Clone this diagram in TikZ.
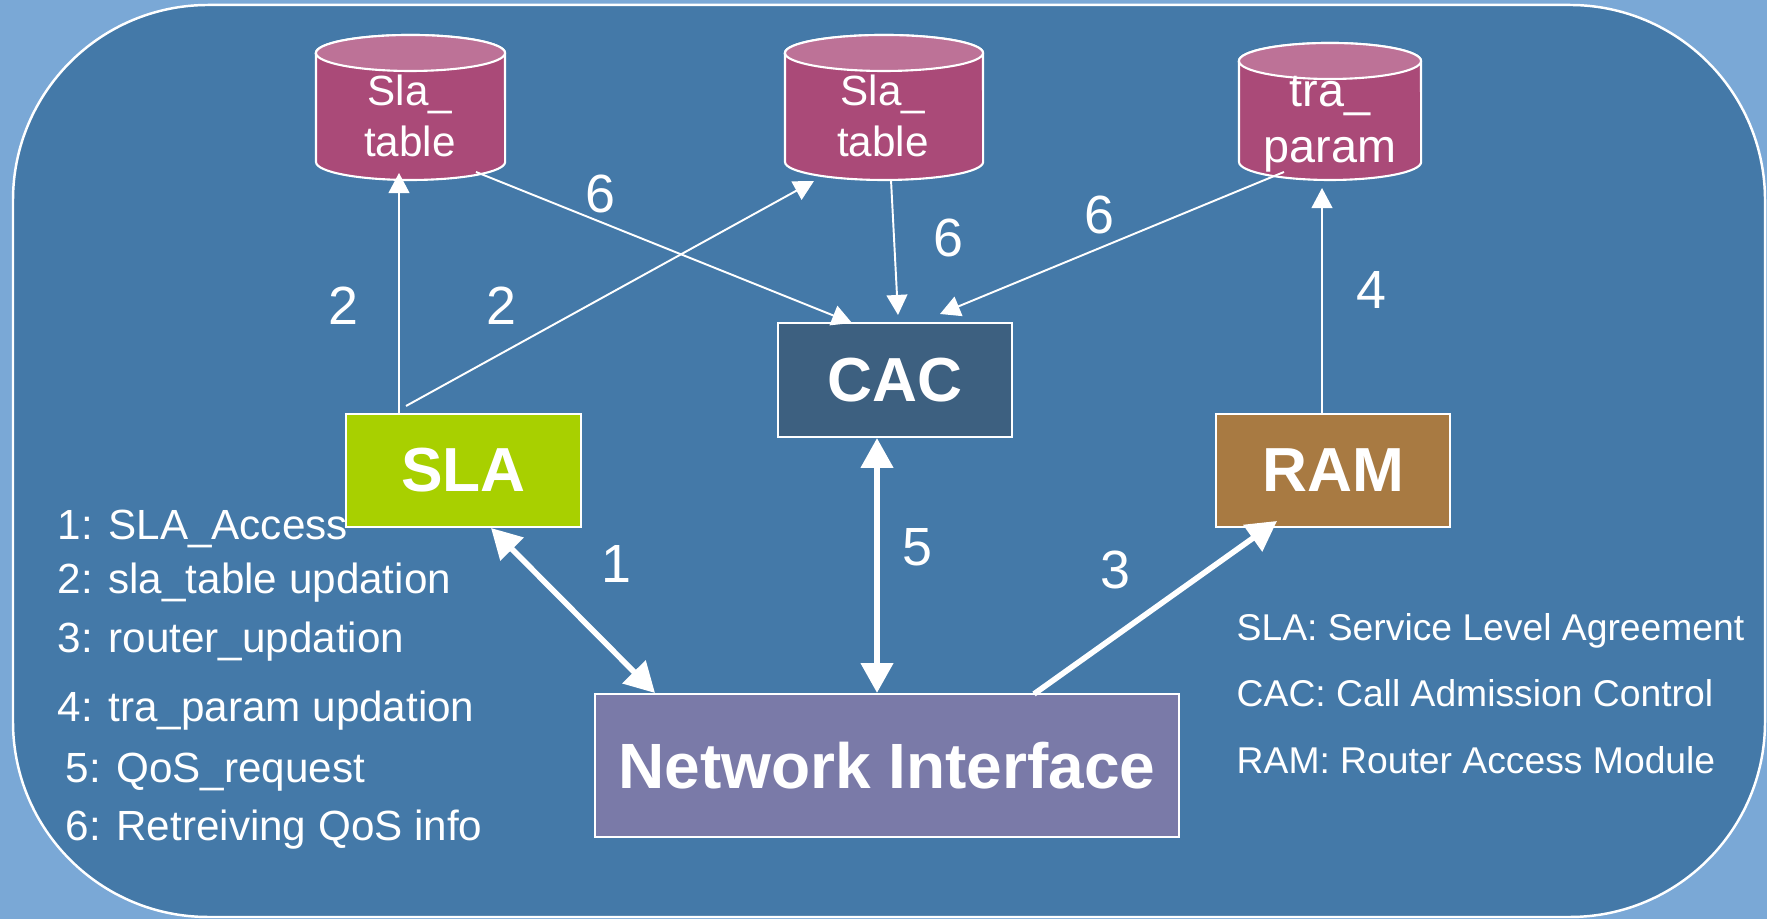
\documentclass[tikz,border=0pt]{standalone}
\usepackage{fontspec}
\setmainfont{Liberation Sans}
\usetikzlibrary{arrows.meta}
\definecolor{bglight}{RGB}{122,168,214}
\definecolor{innerblue}{RGB}{68,121,168}
\definecolor{cylbody}{RGB}{170,74,120}
\definecolor{cyltop}{RGB}{189,114,151}
\definecolor{caccol}{RGB}{61,96,128}
\definecolor{slacol}{RGB}{168,208,0}
\definecolor{ramcol}{RGB}{168,122,66}
\definecolor{nicol}{RGB}{122,122,168}
\begin{document}
\begin{tikzpicture}[x=0.01cm,y=0.01cm,
  thinarr/.style={draw=white, line width=0.55pt, -{Triangle[length=5.7pt,width=5.9pt]}},
  thickboth/.style={draw=white, line width=1.6pt, {Triangle[length=8.5pt,width=9pt]}-{Triangle[length=8.5pt,width=9pt]}},
  thickone/.style={draw=white, line width=1.6pt, -{Triangle[length=8.5pt,width=9pt]}},
  box/.style={draw=white, line width=0.6pt, inner sep=0pt, text=white, font=\fontsize{17.7}{20}\selectfont\bfseries},
  num/.style={text=white, inner sep=0pt, font=\fontsize{15.3}{18}\selectfont},
  legl/.style={text=white, inner sep=0pt, anchor=base west, font=\fontsize{12}{14}\selectfont},
  legr/.style={text=white, inner sep=0pt, anchor=base west, font=\fontsize{10.6}{13}\selectfont},
  cyltext/.style={text=white, inner sep=0pt, anchor=base, font=\fontsize{12}{14}\selectfont},
  cyltextb/.style={text=white, inner sep=0pt, anchor=base, font=\fontsize{13.3}{15}\selectfont}
]
\useasboundingbox (0,0) rectangle (1767,919);
\fill[bglight] (0,0) rectangle (1767,919);
\filldraw[fill=innerblue, draw=white, line width=0.7pt, rounded corners=1.95cm] (13,2) rectangle (1765,914);

% cylinders
\foreach \L/\R/\T/\B in {316/505/884/739, 785/983/884/739, 1239/1421/876/739} {
  \pgfmathsetmacro\rxc{(\R-\L)/200}
  \pgfmathsetmacro\cx{(\R+\L)/2}
  \filldraw[fill=cylbody, draw=white, line width=0.6pt] (\L,\T-18) -- (\L,\B+18)
     arc[start angle=180, end angle=360, x radius=\rxc cm, y radius=0.18cm] -- (\R,\T-18)
     arc[start angle=0, end angle=180, x radius=\rxc cm, y radius=0.18cm] -- cycle;
  \filldraw[fill=cyltop, draw=white, line width=0.6pt] (\cx,\T-18) ellipse[x radius=\rxc cm, y radius=0.18cm];
}
\node[cyltext] (t1a) at (410,813) {Sla\_};
\node[cyltext] (t1b) at (410,762) {table};
\node[cyltext] (t2a) at (883,813) {Sla\_};
\node[cyltext] (t2b) at (883,762) {table};
\node[cyltextb] (t3a) at (1330,812) {tra\_};
\node[cyltextb] (t3b) at (1330,756) {param};

% boxes
\node[box, fill=caccol, minimum width=2.34cm, minimum height=1.14cm] (cac) at (895,539) {CAC};
\node[box, fill=slacol, minimum width=2.35cm, minimum height=1.13cm] (sla) at (463.5,448.5) {SLA};
\node[box, fill=ramcol, minimum width=2.34cm, minimum height=1.13cm] (ram) at (1333,448.5) {RAM};
\node[box, fill=nicol, minimum width=5.84cm, minimum height=1.43cm, font=\fontsize{18.2}{21}\selectfont\bfseries] (ni) at (887,153.5) {Network Interface};

% connector end points
\coordinate (c1b) at (399,746);
\coordinate (s2) at (406,513);
\coordinate (c2bl) at (814,738);
\coordinate (c1r) at (476,747);
\coordinate (cac1) at (852,596);
\coordinate (c2b) at (891,739);
\coordinate (cac2) at (898,604);
\coordinate (c3b) at (1284,747);
\coordinate (cac3) at (940,605);
\coordinate (c3t) at (1322,731);
\coordinate (sla1) at (491,391);
\coordinate (ni1) at (655,226);
\coordinate (m5) at (877,0);
\coordinate (ni3) at (1034,225);
\coordinate (ram3) at (1277,398);

% thin arrows
\draw[thinarr] (c1b |- sla.north) -- (c1b);
\draw[thinarr] (s2) -- (c2bl);
\draw[thinarr] (c1r) -- (cac1);
\draw[thinarr] (c2b) -- (cac2);
\draw[thinarr] (c3b) -- (cac3);
\draw[thinarr] (c3t |- ram.north) -- (c3t);

% thick arrows
\draw[thickboth] (sla1) -- (ni1);
\draw[thickboth] (m5 |- cac.south) -- (m5 |- ni.north);
\draw[thickone] (ni3) -- (ram3);

% numbers
\node[num] (n2a) at (343,613) {2};
\node[num] (n2b) at (501,613) {2};
\node[num] (n6a) at (600,725) {6};
\node[num] (n6b) at (948,681.5) {6};
\node[num] (n6c) at (1099,704) {6};
\node[num] (n4) at (1371,629) {4};
\node[num] (n1) at (616,355) {1};
\node[num] (n5) at (917,371.5) {5};
\node[num] (n3) at (1115,349) {3};

% legends
\node[legl] (l1) at (57,379) {1: SLA\_Access};
\node[legl] (l2) at (57,325) {2: sla\_table updation};
\node[legl] (l3) at (57,266) {3: router\_updation};
\node[legl] (l4) at (57,197) {4: tra\_param updation};
\node[legl] (l5) at (65,136) {5: QoS\_request};
\node[legl] (l6) at (65,78) {6: Retreiving QoS info};

\node[legr] (r1) at (1236,278) {SLA: Service Level Agreement};
\node[legr] (r2) at (1236,212) {CAC: Call Admission Control};
\node[legr] (r3) at (1236,145) {RAM: Router Access Module};
\end{tikzpicture}
\end{document}
